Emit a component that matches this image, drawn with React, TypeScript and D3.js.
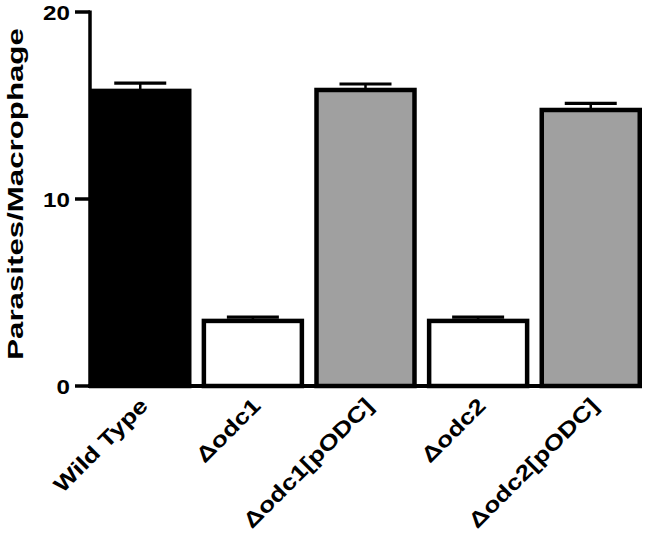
import React, { useEffect, useRef } from 'react';
import * as d3 from 'd3';

const categories = ['Wild Type', 'Δodc1', 'Δodc1[pODC]', 'Δodc2', 'Δodc2[pODC]'];
const means = [15.78, 3.48, 15.83, 3.48, 14.76];
const errors = [0.42, 0.2, 0.32, 0.2, 0.35];
const fills = ['#000000', '#ffffff', '#a0a0a0', '#ffffff', '#a0a0a0'];
const yTicks = [0, 10, 20];
const yLabel = 'Parasites/Macrophage';

const FONT = "'Liberation Sans', Arial, Helvetica, sans-serif";

function stretch(sel: d3.Selection<SVGTextElement, any, any, any>, factor: number) {
  sel.each(function () {
    const len = (this as SVGTextElement).getComputedTextLength();
    d3.select(this).attr('textLength', len * factor).attr('lengthAdjust', 'spacingAndGlyphs');
  });
}

export default function App() {
  const ref = useRef<SVGSVGElement>(null);
  useEffect(() => {
    const svg = d3.select(ref.current);
    svg.selectAll('*').remove();
    const x = d3.scaleBand<string>().domain(categories).range([89, 642]).paddingInner(0.09).paddingOuter(0);
    const y = d3.scaleLinear().domain([0, 20]).range([386, 12]);
    const sw = 4.5;
    const bw = x.bandwidth();

    const data = categories.map((c, i) => ({ c, m: means[i], e: errors[i], f: fills[i] }));

    // error bars (upper only)
    const eb = svg.append('g').attr('stroke', '#000').attr('fill', 'none');
    eb.selectAll('line.v').data(data).join('line')
      .attr('x1', d => x(d.c)! + bw / 2).attr('x2', d => x(d.c)! + bw / 2)
      .attr('y1', d => y(d.m)).attr('y2', d => y(d.m + d.e))
      .attr('stroke-width', 2.5);
    eb.selectAll('line.cap').data(data).join('line')
      .attr('x1', d => x(d.c)! + bw / 2 - 26).attr('x2', d => x(d.c)! + bw / 2 + 26)
      .attr('y1', d => y(d.m + d.e)).attr('y2', d => y(d.m + d.e))
      .attr('stroke-width', 3.2);

    // bars
    svg.append('g').selectAll('rect').data(data).join('rect')
      .attr('x', d => x(d.c)! + sw / 2)
      .attr('width', bw - sw)
      .attr('y', d => y(d.m))
      .attr('height', d => y(0) - y(d.m))
      .attr('fill', d => d.f)
      .attr('stroke', '#000')
      .attr('stroke-width', sw);

    // axes
    svg.append('line').attr('x1', 90).attr('x2', 90).attr('y1', y(20) - 1.5).attr('y2', y(0) + 2)
      .attr('stroke', '#000').attr('stroke-width', 3.5);
    svg.append('line').attr('x1', 88).attr('x2', 642).attr('y1', y(0)).attr('y2', y(0))
      .attr('stroke', '#000').attr('stroke-width', 4);
    const ty = svg.append('g');
    ty.selectAll('line').data(yTicks).join('line')
      .attr('x1', 75).attr('x2', 90).attr('y1', d => y(d)).attr('y2', d => y(d))
      .attr('stroke', '#000').attr('stroke-width', 3.5);
    const tl = ty.selectAll('text').data(yTicks).join('text')
      .attr('x', 70).attr('y', d => y(d) + 7.5)
      .attr('text-anchor', 'end')
      .attr('font-family', FONT).attr('font-weight', 'bold').attr('font-size', 21)
      .text(d => String(d));
    stretch(tl as any, 1.15);

    // x labels
    const xl = svg.append('g').selectAll('text').data(categories).join('text')
      .attr('transform', d => `translate(${x(d)! + bw / 2 + 9},407) rotate(-45)`)
      .attr('text-anchor', 'end')
      .attr('font-family', FONT).attr('font-weight', 'bold').attr('font-size', 21.5)
      .text(d => d);
    stretch(xl as any, 1.23);

    // y label
    const yl = svg.append('text')
      .attr('transform', `translate(23,194) rotate(-90)`)
      .attr('text-anchor', 'middle')
      .attr('font-family', FONT).attr('font-weight', 'bold').attr('font-size', 22)
      .text(yLabel);
    stretch(yl as any, 1.42);
  }, []);

  return (
    <svg ref={ref} width={650} height={541}
      style={{ position: 'absolute', left: 0, top: 0, background: '#fff' }} />
  );
}
